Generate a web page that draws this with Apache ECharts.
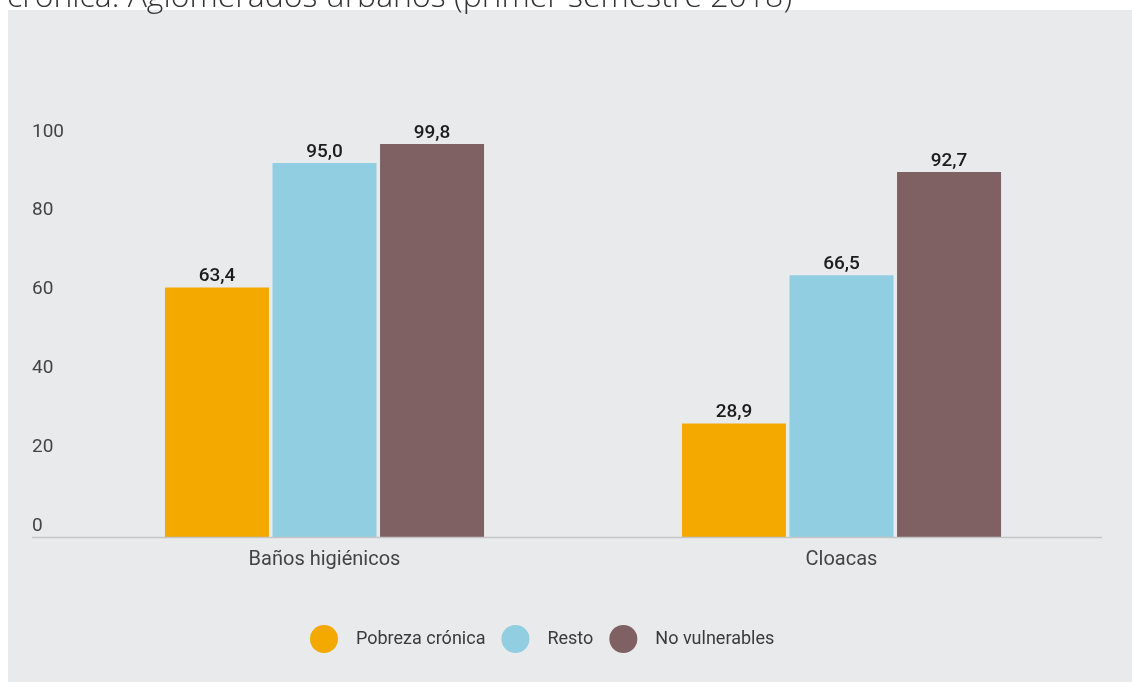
<!DOCTYPE html>
<html>
<head>
<meta charset="utf-8">
<style>
  html, body { margin: 0; padding: 0; background: #ffffff; }
  #chart { width: 1132px; height: 682px; }
</style>
<script src="https://cdn.jsdelivr.net/npm/echarts@6/dist/echarts.min.js"></script>
</head>
<body>
<div id="chart"></div>
<script>
// datos
var categorias = ['Baños higiénicos', 'Cloacas']
var pobrezaCronica = [63.4, 28.9]
var resto = [95.0, 66.5]
var noVulnerables = [99.8, 92.7]
var ticksY = [0, 20, 40, 60, 80, 100]

var chart = echarts.init(document.getElementById('chart'))

function etiqueta(p) {
  return p.value.toFixed(1).replace('.', ',')
}

function serie(nombre, datos, color) {
  return {
    name: nombre,
    type: 'bar',
    data: datos,
    barWidth: 104,
    barGap: '3.4%',
    itemStyle: { color: color },
    label: {
      show: true,
      position: 'top',
      distance: 1.5,
      formatter: etiqueta,
      fontFamily: 'Roboto',
      fontSize: 19,
      fontWeight: 500,
      color: '#1c1c1c'
    }
  }
}

var option = {
  animation: false,
  backgroundColor: '#ffffff',
  textStyle: { fontFamily: 'Roboto' },
  graphic: [
    {
      type: 'rect',
      z: -10,
      shape: { x: 8, y: 10, width: 1124, height: 672 },
      style: { fill: '#e9eaec' }
    },
    {
      // titulo cortado arriba
      type: 'text',
      z: -5,
      style: {
        text: 'crónica. Aglomerados urbanos (primer semestre 2018)',
        x: 7,
        y: -2,
        verticalAlign: 'middle',
        font: '300 32px "Open Sans"',
        fill: '#333333'
      }
    },
    {
      type: 'line',
      z: 5,
      shape: { x1: 32, y1: 537.5, x2: 1102, y2: 537.5 },
      style: { stroke: '#c4c5c8', lineWidth: 1.5 }
    }
  ],
  legend: {
    left: 305,
    top: 620,
    icon: 'circle',
    itemWidth: 28,
    itemHeight: 28,
    itemGap: 16,
    textStyle: {
      fontFamily: 'Roboto',
      fontSize: 18,
      color: '#3a3a3a',
      padding: [0, 0, 0, 13]
    },
    data: ['Pobreza crónica', 'Resto', 'No vulnerables']
  },
  grid: {
    left: 66,
    right: 32,
    top: 143.3,
    bottom: 144.7,
    containLabel: false
  },
  xAxis: {
    type: 'category',
    data: categorias,
    axisLine: { show: false },
    axisTick: { show: false },
    axisLabel: {
      margin: 13,
      fontFamily: 'Roboto',
      fontSize: 20,
      color: '#444444'
    }
  },
  yAxis: {
    type: 'value',
    min: ticksY[0],
    max: ticksY[ticksY.length - 1],
    interval: 20,
    splitLine: { show: false },
    axisLine: { show: false },
    axisTick: { show: false },
    axisLabel: {
      align: 'left',
      verticalAlign: 'bottom',
      margin: 34,
      padding: [0, 0, 2, 0],
      fontFamily: 'Roboto',
      fontSize: 19,
      color: '#444444'
    }
  },
  series: [
    serie('Pobreza crónica', pobrezaCronica, '#f3a900'),
    serie('Resto', resto, '#92cee1'),
    serie('No vulnerables', noVulnerables, '#7f6163')
  ]
}

chart.setOption(option)
</script>
</body>
</html>
